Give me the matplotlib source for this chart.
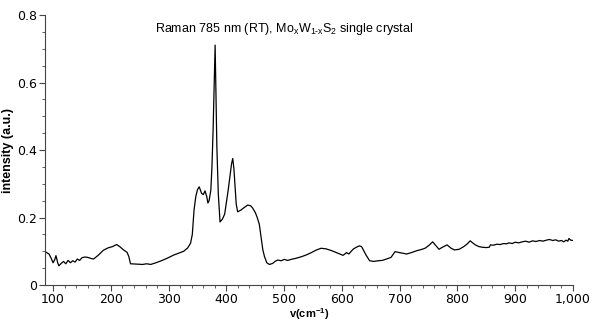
import matplotlib.pyplot as plt
import numpy as np
from matplotlib.ticker import MultipleLocator, FuncFormatter

# Raman shift (cm^-1) and intensity (a.u.)
shift = [88, 93, 97, 100, 103, 105, 108, 110, 114, 118, 122, 126, 130, 134, 138,
         142, 146, 150, 155, 160, 165, 170, 178, 187, 195, 203, 210, 216, 222, 228,
         231, 234, 245, 255, 262, 269, 278, 286, 297, 309, 318, 326, 333, 338, 341,
         344, 347, 350, 353, 357, 360, 363, 366, 368, 370, 373, 375, 377, 379, 380.5,
         382, 383.5, 386, 389, 393, 397, 400, 403, 406, 409, 411, 413, 415, 417, 419.5,
         425, 431, 437, 442, 445.5, 450, 453, 457, 460, 463, 466, 470, 474.5, 480, 485,
         489, 495, 500, 506, 512, 520, 530, 538, 547, 556, 564, 573, 582, 592, 602,
         608, 612, 616, 620, 625, 630, 634, 637, 642, 648, 655, 663, 670, 677, 685,
         692, 700, 712, 720, 730, 737, 744, 751, 757, 762, 768, 775, 782, 789, 795,
         803, 811, 817, 822, 827, 831, 837, 843, 850, 855, 857, 862, 868, 874, 880,
         885, 889, 895, 900, 906, 912, 918, 924, 930, 936, 942, 948, 954, 959, 965,
         970, 975, 980, 984, 988, 991, 993, 996, 1000]
intensity = [0.097, 0.092, 0.078, 0.066, 0.076, 0.087, 0.066, 0.057, 0.064, 0.070, 0.063,
             0.073, 0.066, 0.072, 0.068, 0.077, 0.073, 0.081, 0.083, 0.082, 0.079,
             0.077, 0.088, 0.103, 0.110, 0.114, 0.120, 0.113, 0.104, 0.097, 0.085,
             0.063, 0.062, 0.061, 0.063, 0.061, 0.066, 0.071, 0.079, 0.089, 0.095,
             0.100, 0.110, 0.124, 0.150, 0.222, 0.262, 0.283, 0.291, 0.272, 0.268,
             0.279, 0.262, 0.243, 0.250, 0.280, 0.350, 0.460, 0.600, 0.711,
             0.560, 0.410, 0.270, 0.187, 0.195, 0.210, 0.245, 0.280, 0.321, 0.360, 0.375,
             0.345, 0.291, 0.240, 0.217, 0.222, 0.230, 0.237, 0.235, 0.228, 0.215,
             0.202, 0.180, 0.143, 0.105, 0.084, 0.066, 0.061, 0.064, 0.071,
             0.074, 0.072, 0.076, 0.073, 0.076, 0.079, 0.084, 0.089, 0.096, 0.104,
             0.109, 0.107, 0.102, 0.095, 0.088, 0.096, 0.092, 0.100, 0.107, 0.112,
             0.116, 0.114, 0.104, 0.088, 0.072, 0.070, 0.072, 0.073, 0.077, 0.082,
             0.099, 0.096, 0.092, 0.096, 0.102, 0.105, 0.109, 0.118, 0.128, 0.118,
             0.106, 0.113, 0.119, 0.109, 0.104, 0.106, 0.114, 0.122, 0.131, 0.124,
             0.119, 0.114, 0.112, 0.111, 0.112, 0.119, 0.118, 0.121, 0.120, 0.123,
             0.122, 0.125, 0.123, 0.127, 0.125, 0.128, 0.130, 0.127, 0.131, 0.129,
             0.132, 0.130, 0.133, 0.135, 0.132, 0.134, 0.130, 0.132, 0.128, 0.133,
             0.130, 0.138, 0.133, 0.132]

fig = plt.figure(figsize=(6, 3.28), dpi=100)
ax = fig.add_axes([0.075, 0.131, 0.88, 0.823])

ax.plot(shift, intensity, color='black', lw=0.9)

ax.set_xlim(86, 1000)
ax.set_ylim(0, 0.8)
ax.xaxis.set_major_locator(MultipleLocator(100))
ax.xaxis.set_minor_locator(MultipleLocator(20))
ax.yaxis.set_major_locator(MultipleLocator(0.2))
ax.yaxis.set_minor_locator(MultipleLocator(0.05))
ax.xaxis.set_major_formatter(FuncFormatter(lambda v, p: '{:,.0f}'.format(v)))
ax.yaxis.set_major_formatter(FuncFormatter(lambda v, p: '0' if v == 0 else '%.1f' % v))

for s in ['top', 'right']:
    ax.spines[s].set_visible(False)
for s in ['left', 'bottom']:
    ax.spines[s].set_color('#444444')
    ax.spines[s].set_linewidth(0.8)
ax.tick_params(which='major', length=4, width=0.8, color='#444444', labelsize=9, pad=2)
ax.tick_params(which='minor', length=2, width=0.6, color='#444444')

ax.set_xlabel(r'v(cm$^{\mathregular{-1}}$)', fontsize=8, fontweight='bold',
              family='Liberation Sans', labelpad=0)
ax.set_ylabel('intensity (a.u.)', fontsize=9, fontweight='bold', family='Liberation Sans', labelpad=2)

ax.text(0.208, 0.95,
        'Raman 785 nm (RT), Mo$_\\mathregular{x}$W$_\\mathregular{1\u2010x}$S$_\\mathregular{2}$ single crystal',
        transform=ax.transAxes, fontsize=9, family='Liberation Sans',
        ha='left', va='center')

fig.savefig('out.png', dpi=100)
